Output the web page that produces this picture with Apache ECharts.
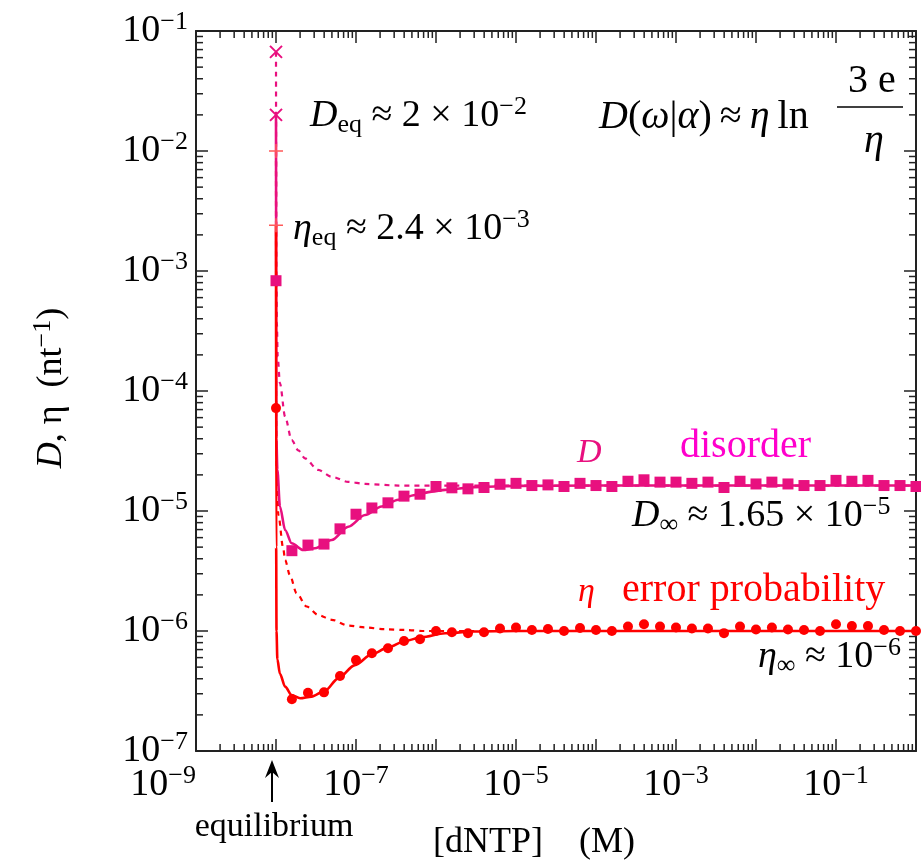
<!DOCTYPE html>
<html>
<head>
<meta charset="utf-8">
<script src="https://cdn.jsdelivr.net/npm/echarts@6/dist/echarts.min.js"></script>
<style>
html, body { margin: 0; padding: 0; background: #fff; }
#main { width: 921px; height: 861px; }
</style>
</head>
<body>
<div id="main"></div>
<script>
var chart = echarts.init(document.getElementById('main'));

var FONT = 'Liberation Serif';
var PINK = '#e8107f';
var MAGENTA = '#ff00cc';
var RED = '#ff0000';
var AXIS = '#222';

// [dNTP] (M) of the simulated points
var xPoints = [
    1e-8,
    1.58e-8, 2.51e-8, 3.98e-8, 6.31e-8, 1e-7,
    1.58e-7, 2.51e-7, 3.98e-7, 6.31e-7, 1e-6,
    1.58e-6, 2.51e-6, 3.98e-6, 6.31e-6, 1e-5,
    1.58e-5, 2.51e-5, 3.98e-5, 6.31e-5, 1e-4,
    1.58e-4, 2.51e-4, 3.98e-4, 6.31e-4, 1e-3,
    1.58e-3, 2.51e-3, 3.98e-3, 6.31e-3, 1e-2,
    1.58e-2, 2.51e-2, 3.98e-2, 6.31e-2, 1e-1,
    0.158, 0.251, 0.398, 0.631, 1
];
// disorder D (squares)
var dPoints = [
    8.3e-4,
    4.67e-6, 5.2e-6, 5.3e-6, 7.1e-6, 9.4e-6,
    1.06e-5, 1.17e-5, 1.33e-5, 1.38e-5, 1.6e-5,
    1.56e-5, 1.53e-5, 1.57e-5, 1.67e-5, 1.7e-5,
    1.63e-5, 1.65e-5, 1.6e-5, 1.7e-5, 1.63e-5,
    1.6e-5, 1.77e-5, 1.82e-5, 1.74e-5, 1.74e-5,
    1.7e-5, 1.74e-5, 1.57e-5, 1.77e-5, 1.68e-5,
    1.74e-5, 1.68e-5, 1.63e-5, 1.63e-5, 1.8e-5,
    1.77e-5, 1.8e-5, 1.63e-5, 1.63e-5, 1.6e-5
];
// error probability eta (circles)
var etaPoints = [
    7.2e-5,
    2.7e-7, 3.06e-7, 3.08e-7, 4.22e-7, 5.73e-7,
    6.52e-7, 7.17e-7, 8.26e-7, 8.53e-7, 1.0e-6,
    9.75e-7, 9.57e-7, 9.75e-7, 1.05e-6, 1.07e-6,
    1.02e-6, 1.04e-6, 1.0e-6, 1.06e-6, 1.02e-6,
    1.0e-6, 1.09e-6, 1.14e-6, 1.09e-6, 1.07e-6,
    1.05e-6, 1.05e-6, 9.6e-7, 1.09e-6, 1.03e-6,
    1.07e-6, 1.03e-6, 1.02e-6, 1.0e-6, 1.14e-6,
    1.1e-6, 1.1e-6, 1.02e-6, 1.0e-6, 1.0e-6
];

// curves
var dFit = [
    [1e-8, 2e-2], [1.01e-8, 4e-5], [1.04e-8, 2.2e-5], [1.12e-8, 1.09e-5], [1.3e-8, 6.95e-6],
    [1.57e-8, 5.38e-6], [2.19e-8, 4.73e-6], [3.07e-8, 4.89e-6], [4.97e-8, 5.73e-6],
    [8.0e-8, 7.4e-6], [1.3e-7, 9.26e-6], [2.09e-7, 1.09e-5], [3.38e-7, 1.24e-5],
    [5.46e-7, 1.36e-5], [8.84e-7, 1.45e-5], [1.3e-6, 1.5e-5], [3e-6, 1.58e-5],
    [1e-5, 1.62e-5], [1e-4, 1.63e-5], [1, 1.63e-5]
];
var dNaive = [
    [1e-8, 6.7e-2], [1.008e-8, 1e-3], [1.025e-8, 3.7e-4], [1.05e-8, 1.93e-4], [1.12e-8, 1.16e-4],
    [1.3e-8, 6.1e-5], [1.57e-8, 3.9e-5], [1.9e-8, 3.2e-5], [2.3e-8, 2.75e-5],
    [3.36e-8, 2.2e-5], [4.97e-8, 1.93e-5], [8e-8, 1.75e-5], [1.3e-7, 1.68e-5],
    [3.4e-7, 1.63e-5], [1e-6, 1.63e-5], [1, 1.63e-5]
];
var etaFit = [
    [1e-8, 2.4e-3], [1.005e-8, 5e-6], [1.015e-8, 1e-6], [1.04e-8, 5.8e-7], [1.12e-8, 4.4e-7],
    [1.3e-8, 3.44e-7], [1.57e-8, 2.93e-7], [2e-8, 2.75e-7], [2.78e-8, 2.84e-7],
    [4.1e-8, 3.18e-7], [6e-8, 4.03e-7], [9.7e-8, 5.2e-7], [1.57e-7, 6.39e-7],
    [2.54e-7, 7.3e-7], [4.1e-7, 8.26e-7], [6.6e-7, 8.86e-7], [1.3e-6, 9.57e-7],
    [3e-6, 9.9e-7], [1e-5, 1e-6], [1, 1e-6]
];
var etaNaive = [
    [1e-8, 1e-2], [1.005e-8, 6e-5], [1.02e-8, 2.3e-5], [1.07e-8, 9.3e-6], [1.23e-8, 4.9e-6],
    [1.3e-8, 3.9e-6], [1.49e-8, 2.93e-6], [1.81e-8, 2.06e-6], [2.42e-8, 1.6e-6],
    [3.37e-8, 1.36e-6], [4.97e-8, 1.24e-6], [8e-8, 1.11e-6], [1.3e-7, 1.07e-6],
    [2.3e-7, 1.035e-6], [4.1e-7, 1.02e-6], [7.3e-7, 1.0e-6], [1, 1e-6]
];

// equilibrium values at [dNTP] = 1e-8
var dEqMarks = [[1e-8, 6.7e-2], [1e-8, 2e-2]];
var etaEqMarks = [[1e-8, 1e-2], [1e-8, 2.4e-3]];

// labelled decades
var xLabelExps = [-9, -7, -5, -3, -1];
var yLabelExps = [-7, -6, -5, -4, -3, -2, -1];

// minor ticks 2..9 x 10^k
var minorX = [], minorY = [];
for (var k = -9; k < 0; k++) for (var m = 2; m < 10; m++) minorX.push(m * Math.pow(10, k));
for (var k2 = -7; k2 < -1; k2++) for (var m2 = 2; m2 < 10; m2++) minorY.push(m2 * Math.pow(10, k2));

function zip(xs, ys) {
    return xs.map(function (x, i) { return [x, ys[i]]; });
}

var labelRich = {
    b: { fontFamily: FONT, fontSize: 38, lineHeight: 44, color: '#000' },
    s: { fontFamily: FONT, fontSize: 26, lineHeight: 22, verticalAlign: 'top', color: '#000' }
};
function powLabel(v, list) {
    var e = Math.round(Math.log10(v));
    if (list.indexOf(e) < 0) return '';
    return '{b|10}{s|\u2212' + (-e) + '}';
}

function baseAxis(extra) {
    var a = {
        type: 'log',
        logBase: 10,
        axisLine: { show: true, onZero: false, lineStyle: { color: AXIS, width: 2 } },
        axisTick: { show: true, inside: true, length: 12, lineStyle: { color: AXIS, width: 1.5 } },
        minorTick: { show: false },
        splitLine: { show: false }
    };
    return Object.assign(a, extra);
}

// tick marks for the 2..9 positions, drawn on all four frame sides
function minorTickSeries(values, isX) {
    return {
        type: 'custom',
        coordinateSystem: 'cartesian2d',
        silent: true,
        clip: false,
        z: 1,
        data: values.map(function (v) { return isX ? [v, 1e-7] : [1e-9, v]; }),
        renderItem: function (params, api) {
            var cs = params.coordSys;
            var p = api.coord([api.value(0), api.value(1)]);
            var st = { stroke: AXIS, lineWidth: 1.5 };
            var L = 7;
            if (isX) {
                return { type: 'group', children: [
                    { type: 'line', shape: { x1: p[0], y1: cs.y + cs.height, x2: p[0], y2: cs.y + cs.height - L }, style: st },
                    { type: 'line', shape: { x1: p[0], y1: cs.y, x2: p[0], y2: cs.y + L }, style: st }
                ] };
            }
            return { type: 'group', children: [
                { type: 'line', shape: { x1: cs.x, y1: p[1], x2: cs.x + L, y2: p[1] }, style: st },
                { type: 'line', shape: { x1: cs.x + cs.width, y1: p[1], x2: cs.x + cs.width - L, y2: p[1] }, style: st }
            ] };
        }
    };
}

var txtRich = function (color, size) {
    size = size || 38;
    return {
        n: { fontFamily: FONT, fontSize: size, lineHeight: 44, fill: color },
        i: { fontFamily: FONT, fontStyle: 'italic', fontSize: size, lineHeight: 44, fill: color },
        sub: { fontFamily: FONT, fontSize: 26, lineHeight: 22, verticalAlign: 'bottom', fill: color },
        sup: { fontFamily: FONT, fontSize: 26, lineHeight: 22, verticalAlign: 'top', fill: color }
    };
};
function label(x, y, text, color, size, align) {
    return {
        type: 'text', x: x, y: y, z: 100,
        style: {
            text: text, rich: txtRich(color, size),
            align: align || 'left', verticalAlign: 'middle',
            font: (size || 38) + 'px ' + FONT, fill: color
        }
    };
}

var option = {
    animation: false,
    backgroundColor: '#fff',
    grid: { left: 196, right: 5, top: 31, bottom: 110, containLabel: false },
    xAxis: [
        baseAxis({
            min: 1e-9, max: 1, position: 'bottom',
            axisLabel: {
                margin: 12, alignMinLabel: 'right',
                formatter: function (v) { return powLabel(v, xLabelExps); },
                rich: labelRich
            }
        }),
        baseAxis({ min: 1e-9, max: 1, position: 'top', axisLabel: { show: false } })
    ],
    yAxis: [
        baseAxis({
            min: 1e-7, max: 1e-1, position: 'left',
            axisLabel: {
                margin: 8,
                formatter: function (v) { return powLabel(v, yLabelExps); },
                rich: labelRich
            }
        }),
        baseAxis({ min: 1e-7, max: 1e-1, position: 'right', axisLabel: { show: false } })
    ],
    series: [
        minorTickSeries(minorX, true),
        minorTickSeries(minorY, false),
        {
            name: 'D naive', type: 'line', data: dNaive, showSymbol: false, smooth: 0.3, smoothMonotone: 'x',
            lineStyle: { color: PINK, width: 2.2, type: [5, 5] }, z: 2
        },
        {
            name: 'eta naive', type: 'line', data: etaNaive, showSymbol: false, smooth: 0.3, smoothMonotone: 'x',
            lineStyle: { color: RED, width: 2.2, type: [5, 5] }, z: 2
        },
        {
            name: 'D fit', type: 'line', data: dFit, showSymbol: false, smooth: 0.3, smoothMonotone: 'x',
            lineStyle: { color: PINK, width: 2.6 }, z: 3
        },
        {
            name: 'eta fit', type: 'line', data: etaFit, showSymbol: false, smooth: 0.3, smoothMonotone: 'x',
            lineStyle: { color: RED, width: 2.6 }, z: 3
        },
        {
            name: 'D', type: 'scatter', data: zip(xPoints, dPoints), symbol: 'rect', symbolSize: 11,
            itemStyle: { color: PINK, opacity: 1 }, z: 5
        },
        {
            name: 'eta', type: 'scatter', data: zip(xPoints, etaPoints), symbol: 'circle', symbolSize: 10,
            itemStyle: { color: RED, opacity: 1 }, z: 5
        },
        {
            name: 'D eq', type: 'scatter', data: dEqMarks, symbol: 'path://M0,0L10,10M10,0L0,10', symbolSize: 12,
            itemStyle: { color: PINK, borderColor: PINK, borderWidth: 2, opacity: 1 }, z: 6
        },
        {
            name: 'eta eq', type: 'scatter', data: etaEqMarks, symbol: 'path://M0,5L10,5M5,0L5,10', symbolSize: 14,
            itemStyle: { color: '#ff5a5a', borderColor: '#ff5a5a', borderWidth: 1.5, opacity: 1 }, z: 6
        }
    ]
};
chart.setOption(option);

var eqX = chart.convertToPixel({ xAxisIndex: 0 }, 1e-8);

chart.setOption({
    graphic: [
        label(310, 116, '{i|D}{sub|eq}{n| \u2248 2 \u00d7 10}{sup|\u22122}', '#000'),
        label(293, 229, '{i|\u03b7}{sub|eq}{n| \u2248 2.4 \u00d7 10}{sup|\u22123}', '#000'),
        label(599, 117, '{i|D}{n|(}{i|\u03c9}{n||}{i|\u03b1}{n|)\u2009\u2248\u2009}{i|\u03b7}{n|\u2009ln}', '#000', 40),
        label(872, 81, '{n|3 e}', '#000', 40, 'center'),
        { type: 'line', z: 100, shape: { x1: 837, y1: 107, x2: 903, y2: 107 }, style: { stroke: '#000', lineWidth: 1.5 } },
        label(874, 141, '{i|\u03b7}', '#000', 40, 'center'),
        label(577, 453, '{i|D}', PINK, 34),
        label(680, 446, '{n|disorder}', MAGENTA, 40),
        label(632, 516, '{i|D}{sub|\u221e}{n| \u2248 1.65 \u00d7 10}{sup|\u22125}', '#000'),
        label(578, 592, '{i|\u03b7}', RED, 34),
        label(622, 590, '{n|error probability}', RED, 40),
        label(758, 657, '{i|\u03b7}{sub|\u221e}{n| \u2248 10}{sup|\u22126}', '#000'),
        label(534, 843, '{n|[dNTP]    (M)}', '#000', 36, 'center'),
        label(eqX - 2, 827, '{n|equilibrium}', '#000', 34, 'center'),
        {
            type: 'text', x: 52, y: 388, rotation: Math.PI / 2, z: 100,
            style: {
                text: '{i|D}{n|, \u03b7  (nt}{sup|\u22121}{n|)}', rich: txtRich('#000', 36),
                align: 'center', verticalAlign: 'middle', font: '36px ' + FONT
            }
        },
        { type: 'line', z: 100, shape: { x1: eqX - 4, y1: 802, x2: eqX - 4, y2: 768 }, style: { stroke: '#000', lineWidth: 2 } },
        {
            type: 'polygon', z: 100,
            shape: { points: [[eqX - 4, 760], [eqX + 3, 778], [eqX - 4, 772], [eqX - 11, 778]] },
            style: { fill: '#000' }
        }
    ]
});
</script>
</body>
</html>
